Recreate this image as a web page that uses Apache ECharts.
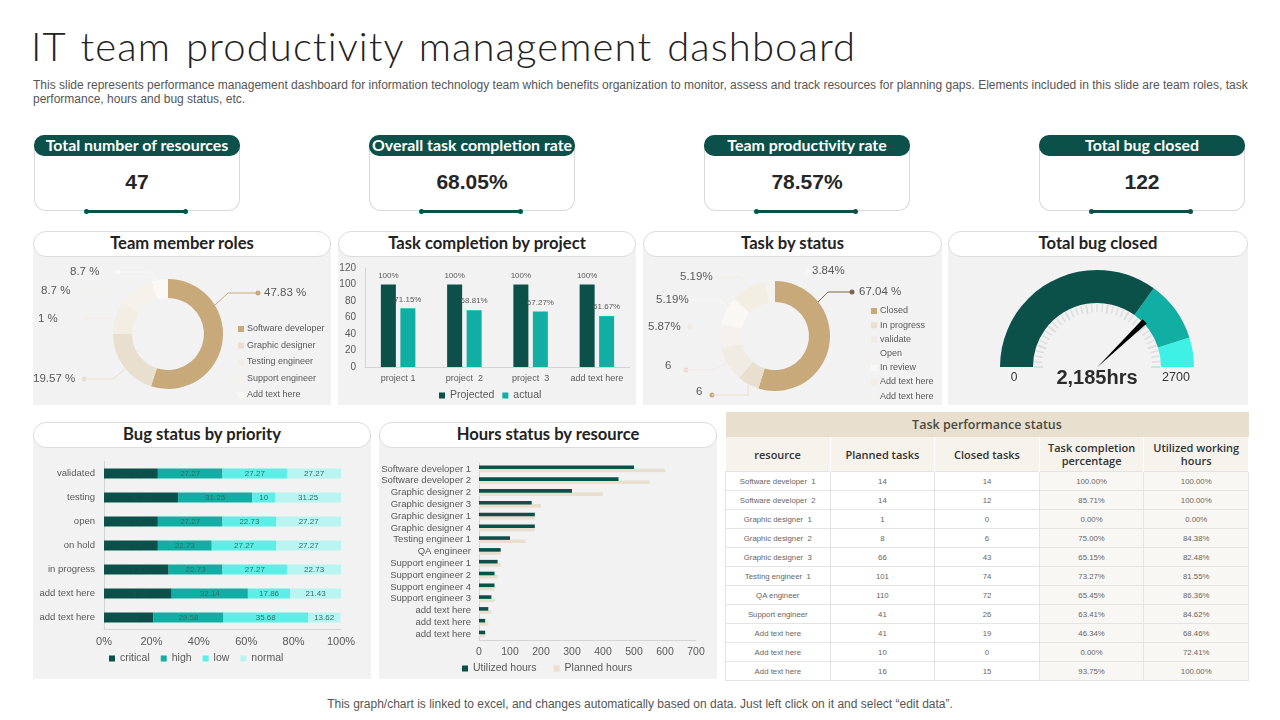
<!DOCTYPE html>
<html lang="en">
<head>
<meta charset="UTF-8">
<title>IT team productivity management dashboard</title>
<script src="https://cdn.jsdelivr.net/npm/echarts@6/dist/echarts.min.js"></script>
<style>
    html, body { margin: 0; padding: 0; background: #fff; }
    body { width: 1280px; height: 720px; position: relative; overflow: hidden; font-family: "Liberation Sans", Arial, sans-serif; }
    #main { position: absolute; left: 0; top: 0; width: 1280px; height: 720px; z-index: 5; }
    h1 { position: absolute; left: 31px; top: 22px; margin: 0; font: 300 40px Lato, sans-serif; color: #222; letter-spacing: 1.1px; word-spacing: 3px; white-space: nowrap; }
    .intro { position: absolute; left: 33px; top: 78px; width: 1225px; font-size: 12px; line-height: 14px; color: #555; }
    .foot { position: absolute; left: 0; width: 1280px; top: 697px; text-align: center; font-size: 12px; color: #555; }
    .card { position: absolute; top: 145px; width: 204px; height: 65px; border: 1px solid #d9d9d9; border-top: none; border-radius: 0 0 12px 12px; }
    .pill { position: absolute; top: 135px; width: 206px; height: 21px; background: #0b5149; color: #fff; border-radius: 10px; text-align: center; font: 700 15.9px/20px Lato, sans-serif; white-space: nowrap; }
    .num { position: absolute; top: 170px; width: 206px; text-align: center; font-size: 21px; font-weight: 700; color: #262626; }
    .rule { position: absolute; top: 210px; width: 96px; height: 3px; background: #0b5149; }
    .rule:before, .rule:after { content: ""; position: absolute; top: -1px; width: 5px; height: 5px; border-radius: 3px; background: #0b5149; }
    .rule:before { left: -4px; } .rule:after { right: -4px; }
    .panel { position: absolute; background: #f2f2f2; }
    .head { position: absolute; height: 24px; background: #fff; border: 1px solid #dcdcdc; border-radius: 13px; text-align: center; font: 700 16.6px/22px Lato, sans-serif; color: #222; box-sizing: content-box; white-space: nowrap; }
    table { position: absolute; left: 725px; top: 412px; width: 524px; border-collapse: collapse; table-layout: fixed; }
    th, td { text-align: center; padding: 0; }
    .tt { height: 25px; background: #e8dfcf; font: 600 12.5px "Open Sans", sans-serif; color: #4a4a40; }
    .th th { height: 34px; background: #f6f2ec; border-right: 1px solid #fff; font: 600 11px/13px "Open Sans", sans-serif; color: #333; }
    td { height: 18px; font-size: 7.8px; color: #666; border: 1px solid #e4e4e4; }
    td.alt { background: #f9f7f3; }
</style>
</head>
<body>
<h1>IT team productivity management dashboard</h1>
<div class="intro">This slide represents performance management dashboard for information technology team which benefits organization to monitor, assess and track resources for planning gaps. Elements included in this slide are team roles, task performance, hours and bug status, etc.</div>
<div id="cards"></div>
<div id="panels"></div>
<table id="perf"></table>
<div class="foot">This graph/chart is linked to excel, and changes automatically based on data. Just left click on it and select “edit data”.</div>
<div id="main"></div>
<script>
    // kpi cards
    var kpiTitles = ['Total number of resources', 'Overall task completion rate', 'Team productivity rate', 'Total bug closed'];
    var kpiValues = ['47', '68.05%', '78.57%', '122'];

    // team member roles (arc sizes read from the donut, labels as printed)
    var teamNames = ['Software developer', 'Graphic designer', 'Testing engineer', 'Support engineer', 'Add text here'];
    var teamValues = [55, 20, 9.7, 10.5, 4.8];
    var teamLabels = ['47.83 %', '19.57 %', '1 %', '8.7 %', '8.7 %'];

    // task completion by project
    var projects = ['project 1', 'project  2', 'project  3', 'add text here'];
    var projected = [100, 100, 100, 100];
    var actual = [71.15, 68.81, 67.27, 61.67];

    // task by status
    var statusNames = ['Closed', 'In progress', 'validate', 'Open', 'In review', 'Add text here ', 'Add text here  '];
    var statusValues = [54.9, 6.4, 10.1, 7.2, 8.2, 10.4, 2.8];
    var statusLabels = ['67.04 %', '6', '6', '5.87%', '5.19%', '5.19%', '3.84%'];

    // gauge
    var gaugeMax = 2700;
    var gaugeBands = [1887, 2435, 2700];
    var gaugeNeedle = 2043;
    var gaugeText = '2,185hrs';

    // bug status by priority
    var priorities = ['validated', 'testing', 'open', 'on hold', 'in progress', 'add text here', 'add text here'];
    var critical = [22.73, 31.25, 22.73, 22.73, 27.27, 28.57, 20.83];
    var high = [27.27, 31.25, 27.27, 22.73, 22.73, 32.14, 29.58];
    var low = [27.27, 9.75, 22.73, 27.27, 27.27, 17.86, 35.68];
    var normal = [22.73, 27.75, 27.27, 27.27, 22.73, 21.43, 13.62];
    var criticalLabels = ['22.73', '31.25', '22.73', '22.73', '27.27', '28.57', '20.83'];
    var highLabels = ['27.27', '31.25', '27.27', '22.73', '22.73', '32.14', '29.58'];
    var lowLabels = ['27.27', '10', '22.73', '27.27', '27.27', '17.86', '35.68'];
    var normalLabels = ['27.27', '31.25', '27.27', '27.27', '22.73', '21.43', '13.62'];

    // hours status by resource
    var resources = ['Software developer 1', 'Software developer 2', 'Graphic designer 2', 'Graphic designer 3', 'Graphic designer 1', 'Graphic designer 4', 'Testing engineer 1', 'QA engineer', 'Support engineer 1', 'Support engineer 2', 'Support engineer 4', 'Support engineer 3', 'add text here', 'add text here', 'add text here'];
    var utilized = [500, 450, 300, 170, 180, 180, 100, 70, 60, 50, 50, 40, 30, 20, 20];
    var planned = [600, 550, 400, 200, 180, 180, 150, 70, 70, 60, 50, 50, 40, 30, 20];

    // task performance table
    var tableHead = ['resource', 'Planned tasks', 'Closed tasks', 'Task completion<br>percentage', 'Utilized working<br>hours'];
    var tableNames = ['Software developer  1', 'Software developer  2', 'Graphic designer  1', 'Graphic designer  2', 'Graphic designer  3', 'Testing engineer  1', 'QA engineer', 'Support engineer', 'Add text here', 'Add text here', 'Add text here'];
    var tablePlanned = [14, 14, 1, 8, 66, 101, 110, 41, 41, 10, 16];
    var tableClosed = [14, 12, 0, 6, 43, 74, 72, 26, 19, 0, 15];
    var tablePct = ['100.00%', '85.71%', '0.00%', '75.00%', '65.15%', '73.27%', '65.45%', '63.41%', '46.34%', '0.00%', '93.75%'];
    var tableHours = ['100.00%', '100.00%', '0.00%', '84.38%', '82.48%', '81.55%', '86.36%', '84.62%', '68.46%', '72.41%', '100.00%'];

    var DARK = '#0b5149', TEAL = '#10aea3', CYAN = '#5cefe5', PALE = '#b8f5f0', SAND = '#e8dfcf', GOLD = '#c8a97a';
    var GREY = '#595959';
    var FONT = '"Liberation Sans", Arial, sans-serif';

    // ---- page furniture
    var cardX = [34, 369, 704, 1039];
    var html = '';
    for (var i = 0; i < 4; i++) {
        html += '<div class="card" style="left:' + cardX[i] + 'px"></div>';
        html += '<div class="pill" style="left:' + cardX[i] + 'px">' + kpiTitles[i] + '</div>';
        html += '<div class="num" style="left:' + cardX[i] + 'px">' + kpiValues[i] + '</div>';
        html += '<div class="rule" style="left:' + (cardX[i] + 54) + 'px"></div>';
    }
    document.getElementById('cards').innerHTML = html;

    var panelBoxes = [
        ['Team member roles', 33, 243, 298, 162, 231],
        ['Task completion by project', 338, 243, 298, 162, 231],
        ['Task by status', 643, 243, 299, 162, 231],
        ['Total bug closed', 948, 243, 300, 162, 231],
        ['Bug status by priority', 33, 434, 338, 245, 422],
        ['Hours status by resource', 379, 434, 338, 245, 422]
    ];
    html = '';
    panelBoxes.forEach(function (p) {
        html += '<div class="panel" style="left:' + p[1] + 'px;top:' + p[2] + 'px;width:' + p[3] + 'px;height:' + p[4] + 'px"></div>';
        html += '<div class="head" style="left:' + p[1] + 'px;top:' + p[5] + 'px;width:' + (p[3] - 2) + 'px">' + p[0] + '</div>';
    });
    document.getElementById('panels').innerHTML = html;

    html = '<tr><th class="tt" colspan="5">Task performance status</th></tr><tr class="th">';
    tableHead.forEach(function (h) { html += '<th>' + h + '</th>'; });
    html += '</tr>';
    tableNames.forEach(function (n, k) {
        html += '<tr><td>' + n.replace(/  /g, '&nbsp; ') + '</td><td>' + tablePlanned[k] + '</td><td>' + tableClosed[k] + '</td><td class="alt">' + tablePct[k] + '</td><td class="alt">' + tableHours[k] + '</td></tr>';
    });
    document.getElementById('perf').innerHTML = html;

    // ---- charts
    var teamColors = [GOLD, SAND, '#f3eee3', '#f5f2ec', '#fbf9f5'];
    var statusColors = [GOLD, SAND, '#f0ebe3', '#f5f2ed', '#faf8f5', '#f3eee3', '#f4f3f0'];

    // label text position, then the leader line (slice, elbow, end)
    var teamLayout = [
        { x: 264, y: 293, line: [[215, 305], [228, 293], [258, 293]] },
        { x: 33, y: 379, line: [[125, 369], [113, 379], [84, 379]] },
        { x: 38, y: 319, line: [[113, 318], [100, 318], [86, 318]] },
        { x: 41, y: 291, line: [[125, 300], [112, 291], [72, 291]] },
        { x: 70, y: 272, line: [[160, 283], [150, 272], [118, 272]] }
    ];
    var statusLayout = [
        { x: 859, y: 292, line: [[818, 302], [828, 292], [852, 292]] },
        { x: 696, y: 392, line: [[748, 385], [748, 395], [712, 395]] },
        { x: 665, y: 366, line: [[727, 363], [713, 370], [686, 370]] },
        { x: 648, y: 327, line: [[720, 335], [712, 327], [690, 327]] },
        { x: 656, y: 300, line: [[732, 312], [720, 300], [690, 300]] },
        { x: 680, y: 277, line: [[752, 288], [740, 277], [714, 277]] },
        { x: 812, y: 271, line: [[775, 278], [785, 271], [808, 271]] }
    ];
    var dotColors = { team: [GOLD, SAND, '#f3eee3', '#f2f2f2', '#fbf9f5'], status: ['#7a6648', GOLD, SAND, '#efe9df', '#f2f2f2', '#f2f2f2', '#f7f7f7'] };

    function donut(names, values, colors, labels, layout, center, radius) {
        return {
            type: 'pie',
            silent: true,
            animation: false,
            center: center,
            radius: radius,
            startAngle: 90,
            avoidLabelOverlap: false,
            data: names.map(function (n, k) {
                return {
                    name: n,
                    value: values[k],
                    itemStyle: { color: colors[k] },
                    labelLine: { lineStyle: { color: k === 0 && names === statusNames ? '#7a6648' : (k === 0 ? GOLD : colors[k]), width: 1 } }
                };
            }),
            label: {
                show: true,
                position: 'outside',
                fontFamily: FONT,
                fontSize: 11.5,
                color: GREY,
                formatter: function (p) { return labels[p.dataIndex]; }
            },
            labelLine: { show: true, length: 10, length2: 10, smooth: false },
            labelLayout: function (p) {
                var l = layout[p.dataIndex];
                return { x: l.x, y: l.y, align: 'left', verticalAlign: 'middle', labelLinePoints: l.line };
            }
        };
    }

    function dots(layout, colors) {
        return layout.map(function (l, k) {
            var end = l.line[2];
            return { type: 'circle', silent: true, shape: { cx: end[0], cy: end[1], r: 2.5 }, style: { fill: colors[k] } };
        });
    }

    function catLabel(size) {
        return { fontFamily: FONT, fontSize: size, color: GREY };
    }

    function stackSeries(name, color, values, labels, labelColor) {
        return {
            name: name, type: 'bar', stack: 'bug', xAxisIndex: 1, yAxisIndex: 1, barWidth: 10,
            itemStyle: { color: color },
            data: values,
            label: {
                show: true, position: 'inside', fontFamily: FONT, fontSize: 8, color: labelColor,
                formatter: function (p) { return labels[p.dataIndex]; }
            }
        };
    }

    var AXIS = { lineStyle: { color: '#d4d4d4' } };

    var option = {
        animation: false,
        textStyle: { fontFamily: FONT },
        legend: [
            { data: teamNames, orient: 'vertical', left: 233, top: 319, itemWidth: 6, itemHeight: 6, itemGap: 6.5, icon: 'rect', textStyle: { fontSize: 9, lineHeight: 10, color: GREY, padding: [0, 0, 0, -2] }, selectedMode: false },
            { data: ['Projected', 'actual'], left: 434, top: 385, itemWidth: 6, itemHeight: 6, itemGap: 8, icon: 'rect', textStyle: catLabel(10.5), selectedMode: false },
            { data: statusNames, orient: 'vertical', left: 866, top: 301, itemWidth: 6, itemHeight: 6, itemGap: 4.2, icon: 'rect', textStyle: { fontSize: 9, lineHeight: 10, color: GREY, padding: [0, 0, 0, -2] }, selectedMode: false },
            { data: ['critical', 'high', 'low', 'normal'], left: 104, top: 648, itemWidth: 6, itemHeight: 6, itemGap: 11, icon: 'rect', textStyle: catLabel(10.5), selectedMode: false },
            { data: ['Utilized hours', 'Planned hours'], left: 457, top: 658, itemWidth: 6, itemHeight: 6, itemGap: 17, icon: 'rect', textStyle: catLabel(10.5), selectedMode: false }
        ],
        grid: [
            { left: 365, top: 268, width: 265, height: 99 },
            { left: 104, top: 461.5, width: 237, height: 168 },
            { left: 479, top: 463, width: 217, height: 177 }
        ],
        xAxis: [
            { gridIndex: 0, type: 'category', data: projects, axisTick: { show: false }, axisLine: AXIS, axisLabel: Object.assign(catLabel(9), { margin: 7, interval: 0 }) },
            { gridIndex: 1, type: 'value', min: 0, max: 100, interval: 20, splitLine: { show: false }, axisLine: { show: true, lineStyle: { color: '#d4d4d4' } }, axisLabel: Object.assign(catLabel(11), { margin: 7, formatter: '{value}%' }) },
            { gridIndex: 2, type: 'value', min: 0, max: 700, interval: 100, splitLine: { show: false }, axisLine: { show: true, lineStyle: { color: '#d4d4d4' } }, axisLabel: Object.assign(catLabel(10.5), { margin: 7 }) }
        ],
        yAxis: [
            { gridIndex: 0, type: 'value', min: 0, max: 120, interval: 20, splitLine: { show: false }, axisLine: { show: true, lineStyle: { color: '#d4d4d4' } }, axisLabel: Object.assign(catLabel(10), { margin: 9 }) },
            { gridIndex: 1, type: 'category', inverse: true, data: priorities, axisTick: { show: false }, axisLine: AXIS, axisLabel: Object.assign(catLabel(9.5), { margin: 9, interval: 0 }) },
            { gridIndex: 2, type: 'category', inverse: true, data: resources, axisTick: { show: false }, axisLine: AXIS, axisLabel: Object.assign(catLabel(9.5), { margin: 8, interval: 0 }) }
        ],
        graphic: dots(teamLayout, dotColors.team).concat(dots(statusLayout, dotColors.status)).concat([
            { type: 'text', silent: true, style: { x: 1014, y: 378, text: '0', align: 'center', verticalAlign: 'middle', font: '12px ' + FONT, fill: '#333' } },
            { type: 'text', silent: true, style: { x: 1176, y: 378, text: '2700', align: 'center', verticalAlign: 'middle', font: '12.5px ' + FONT, fill: '#333' } }
        ]),
        series: [
            donut(teamNames, teamValues, teamColors, teamLabels, teamLayout, [168, 334], [36, 55]),
            donut(statusNames, statusValues, statusColors, statusLabels, statusLayout, [775, 336], [34, 55]),
            {
                name: 'Projected', type: 'bar', xAxisIndex: 0, yAxisIndex: 0, barWidth: 15, barGap: '30%',
                itemStyle: { color: DARK }, data: projected,
                label: { show: true, position: 'top', fontSize: 8, color: GREY, formatter: '{c}%' }
            },
            {
                name: 'actual', type: 'bar', xAxisIndex: 0, yAxisIndex: 0, barWidth: 15,
                itemStyle: { color: TEAL }, data: actual,
                label: { show: true, position: 'top', fontSize: 8, color: GREY, formatter: '{c}%' }
            },
            {
                type: 'gauge', center: [1097, 367], radius: 97, startAngle: 180, endAngle: 0,
                min: 0, max: gaugeMax, splitNumber: 9, silent: true,
                axisLine: { lineStyle: { width: 33, color: [[gaugeBands[0] / gaugeMax, DARK], [gaugeBands[1] / gaugeMax, TEAL], [1, '#3ff0e4']] } },
                axisTick: { distance: 1, length: 8, splitNumber: 4, lineStyle: { color: '#dedede', width: 1.5 } },
                splitLine: { distance: 1, length: 9, lineStyle: { color: '#d8d8d8', width: 1.5 } },
                axisLabel: { show: false },
                pointer: { icon: 'path://M0 0 L10 0 L5.5 100 Z', length: 66, width: 6, offsetCenter: [0, 0], itemStyle: { color: '#000' } },
                anchor: { show: false },
                title: { show: false },
                detail: { formatter: function () { return gaugeText; }, offsetCenter: [0, 11], fontFamily: FONT, fontSize: 20, fontWeight: 'bold', color: '#2b2b2b' },
                data: [{ value: gaugeNeedle }]
            },
            stackSeries('critical', DARK, critical, criticalLabels, '#14584f'),
            stackSeries('high', TEAL, high, highLabels, '#2f6f69'),
            stackSeries('low', CYAN, low, lowLabels, '#2f6f69'),
            stackSeries('normal', PALE, normal, normalLabels, '#2f6f69'),
            {
                name: 'Utilized hours', type: 'bar', xAxisIndex: 2, yAxisIndex: 2, barWidth: 3.6, barGap: '-10%', z: 3,
                itemStyle: { color: DARK }, data: utilized
            },
            {
                name: 'Planned hours', type: 'bar', xAxisIndex: 2, yAxisIndex: 2, barWidth: 3.6, z: 2,
                itemStyle: { color: SAND }, data: planned
            }
        ]
    };

    var myChart = echarts.init(document.getElementById('main'));
    myChart.setOption(option);
</script>
</body>
</html>
